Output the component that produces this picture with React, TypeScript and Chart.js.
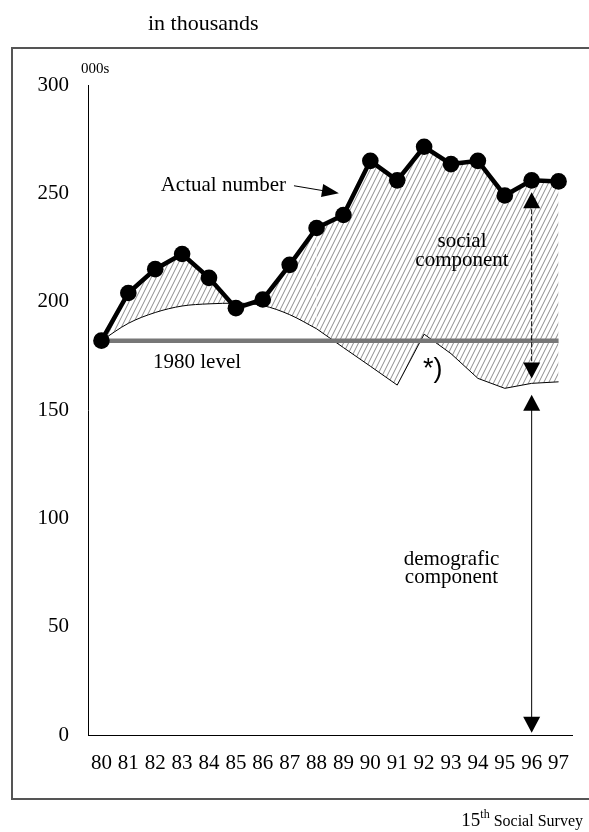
import React, { useEffect, useRef } from "react";
import { Chart, registerables } from "chart.js";

Chart.register(...registerables);

// ---- data (values in thousands) ----
const YEARS = ["80", "81", "82", "83", "84", "85", "86", "87", "88", "89", "90", "91", "92", "93", "94", "95", "96", "97"];
const ACTUAL = [182, 204, 215, 222, 211, 197, 201, 217, 234, 240, 265, 256, 271.5, 263.5, 265, 249, 256, 255.5];
const DEMOGRAPHIC = [182, 190, 195, 198, 199, 199.3, 198.2, 194, 187.5, 178.8, 170.2, 161.5, 185, 176, 164.6, 160, 162.3, 163];
const LEVEL_1980 = 182;
const SMOOTH_LAST_INDEX = 8; // demographic curve is smooth up to '88, straight afterwards
const Y_TICKS = [0, 50, 100, 150, 200, 250, 300];

// annotation arrows (category index, value)
const POINTER_FROM = [7.16, 253.5];
const POINTER_TO = [8.83, 250];
const COMPONENT_ARROW_INDEX = 16; // '96
const SOCIAL_SPAN = [250.5, 164.5];
const DEMO_SPAN = [157, 1];

const SERIF = '"Liberation Serif", "Times New Roman", Times, serif';
const SANS = '"Liberation Sans", Arial, Helvetica, sans-serif';

function makeHatch(): CanvasPattern | string {
  const c = document.createElement("canvas");
  c.width = 5;
  c.height = 10;
  const g = c.getContext("2d");
  if (!g) return "#ccc";
  g.strokeStyle = "#8c8c8c";
  g.lineWidth = 1;
  g.beginPath();
  for (const dx of [-5, 0, 5]) {
    g.moveTo(dx, 10);
    g.lineTo(dx + 5, 0);
  }
  g.stroke();
  return g.createPattern(c, "repeat") || "#ccc";
}

function head(ctx: CanvasRenderingContext2D, tx: number, ty: number, fx: number, fy: number, len: number, halfW: number) {
  const ang = Math.atan2(ty - fy, tx - fx);
  const bx = tx - Math.cos(ang) * len;
  const by = ty - Math.sin(ang) * len;
  const px = -Math.sin(ang) * halfW;
  const py = Math.cos(ang) * halfW;
  ctx.beginPath();
  ctx.moveTo(tx, ty);
  ctx.lineTo(bx + px, by + py);
  ctx.lineTo(bx - px, by - py);
  ctx.closePath();
  ctx.fill();
}

const arrowPlugin = {
  id: "arrows",
  afterDatasetsDraw(chart: any) {
    const { ctx, scales } = chart;
    const x = scales.x;
    const y = scales.y;
    ctx.save();
    ctx.fillStyle = "#000";
    ctx.strokeStyle = "#000";
    ctx.lineWidth = 1;

    // "Actual number" pointer
    const fx = x.getPixelForValue(POINTER_FROM[0]);
    const fy = y.getPixelForValue(POINTER_FROM[1]);
    const tx = x.getPixelForValue(POINTER_TO[0]);
    const ty = y.getPixelForValue(POINTER_TO[1]);
    ctx.beginPath();
    ctx.moveTo(fx, fy);
    ctx.lineTo(tx - (tx - fx) * 0.3, ty - (ty - fy) * 0.3);
    ctx.stroke();
    head(ctx, tx, ty, fx, fy, 17, 6.5);

    const ax = x.getPixelForValue(COMPONENT_ARROW_INDEX);
    // social component double arrow
    const s1 = y.getPixelForValue(SOCIAL_SPAN[0]);
    const s2 = y.getPixelForValue(SOCIAL_SPAN[1]);
    ctx.beginPath();
    ctx.setLineDash([5, 2]);
    ctx.moveTo(ax, s1 + 10);
    ctx.lineTo(ax, s2 - 10);
    ctx.stroke();
    ctx.setLineDash([]);
    head(ctx, ax, s1, ax, s1 + 20, 16, 8.5);
    head(ctx, ax, s2, ax, s2 - 20, 16, 8.5);

    // demographic component double arrow
    const d1 = y.getPixelForValue(DEMO_SPAN[0]);
    const d2 = y.getPixelForValue(DEMO_SPAN[1]);
    ctx.beginPath();
    ctx.moveTo(ax, d1 + 10);
    ctx.lineTo(ax, d2 - 10);
    ctx.stroke();
    head(ctx, ax, d1, ax, d1 + 20, 16, 8.5);
    head(ctx, ax, d2, ax, d2 - 20, 16, 8.5);
    ctx.restore();
  },
};

const txt = (extra: React.CSSProperties): React.CSSProperties => ({
  position: "absolute",
  fontFamily: SERIF,
  fontSize: 21,
  lineHeight: "21px",
  color: "#000",
  whiteSpace: "nowrap",
  ...extra,
});

export default function App() {
  const ref = useRef<HTMLCanvasElement | null>(null);

  useEffect(() => {
    if (!ref.current) return;
    const hatch = makeHatch();
    const chart = new Chart(ref.current, {
      type: "line",
      data: {
        labels: YEARS,
        datasets: [
          {
            label: "Actual number",
            data: ACTUAL,
            borderColor: "#000",
            borderWidth: 4.5,
            pointRadius: 8.3,
            pointBorderWidth: 0,
            pointBackgroundColor: "#000",
            tension: 0,
            fill: false,
            order: 1,
          },
          {
            label: "1980 level",
            data: YEARS.map(() => LEVEL_1980),
            borderColor: "#777",
            borderWidth: 4.5,
            pointRadius: 0,
            fill: false,
            order: 2,
          },
          {
            label: "demographic (smooth)",
            data: DEMOGRAPHIC.map((v, i) => (i <= SMOOTH_LAST_INDEX ? v : null)),
            borderColor: "#000",
            borderWidth: 1,
            pointRadius: 0,
            cubicInterpolationMode: "monotone",
            tension: 0.4,
            fill: 0,
            backgroundColor: hatch as any,
            order: 3,
          },
          {
            label: "demographic",
            data: DEMOGRAPHIC.map((v, i) => (i >= SMOOTH_LAST_INDEX ? v : null)),
            borderColor: "#000",
            borderWidth: 1,
            pointRadius: 0,
            tension: 0,
            fill: 0,
            backgroundColor: hatch as any,
            order: 3,
          },
        ],
      },
      options: {
        responsive: false,
        animation: false,
        events: [],
        layout: { padding: { top: 85, right: 17, left: 0, bottom: 0 } },
        plugins: { legend: { display: false }, tooltip: { enabled: false } },
        scales: {
          x: {
            type: "category",
            offset: true,
            grid: { display: false, drawTicks: false },
            border: { display: true, color: "#000", width: 1 },
            ticks: {
              color: "#000",
              font: { family: SERIF, size: 21 },
              padding: 16,
              maxRotation: 0,
              autoSkip: false,
            },
            afterFit: (s: any) => {
              s.height = 97;
            },
          },
          y: {
            min: 0,
            max: 300,
            grid: { display: false, drawTicks: false },
            border: { display: true, color: "#000", width: 1 },
            afterBuildTicks: (s: any) => {
              s.ticks = Y_TICKS.map((v) => ({ value: v }));
            },
            ticks: {
              color: "#000",
              font: { family: SERIF, size: 21 },
              padding: 19,
            },
            afterFit: (s: any) => {
              s.width = 88;
            },
          },
        },
      },
      plugins: [arrowPlugin],
    } as any);
    return () => chart.destroy();
  }, []);

  return (
    <div style={{ position: "absolute", left: 0, top: 0, width: 589, height: 832, overflow: "hidden", background: "#fff" }}>
      <div
        style={{
          position: "absolute",
          left: 11,
          top: 47,
          width: 620,
          height: 753,
          border: "2px solid #555",
          boxSizing: "border-box",
        }}
      />
      <canvas ref={ref} width={589} height={832} style={{ position: "absolute", left: 0, top: 0 }} />
      <div style={txt({ left: 148, top: 12, fontSize: 22, lineHeight: "22px" })}>in thousands</div>
      <div style={txt({ left: 81, top: 61, fontSize: 15, lineHeight: "15px" })}>000s</div>
      <div style={txt({ left: 160.7, top: 174 })}>Actual number</div>
      <div style={txt({ left: 153, top: 350.7 })}>1980 level</div>
      <div style={txt({ left: 362, width: 200, top: 231.4, lineHeight: "19px", textAlign: "center" })}>
        social
        <br />
        component
      </div>
      <div style={txt({ left: 351.5, width: 200, top: 550.2, lineHeight: "17.5px", textAlign: "center" })}>
        demografic
        <br />
        component
      </div>
      <div style={txt({ left: 423, top: 355, fontFamily: SANS, fontSize: 27, lineHeight: "27px" })}>*)</div>
      <div style={txt({ right: 6, top: 810, fontSize: 16, lineHeight: "20px" })}>
        <span style={{ fontSize: 19 }}>15</span>
        <span style={{ fontSize: 12, position: "relative", top: -8 }}>th</span> Social Survey
      </div>
    </div>
  );
}
